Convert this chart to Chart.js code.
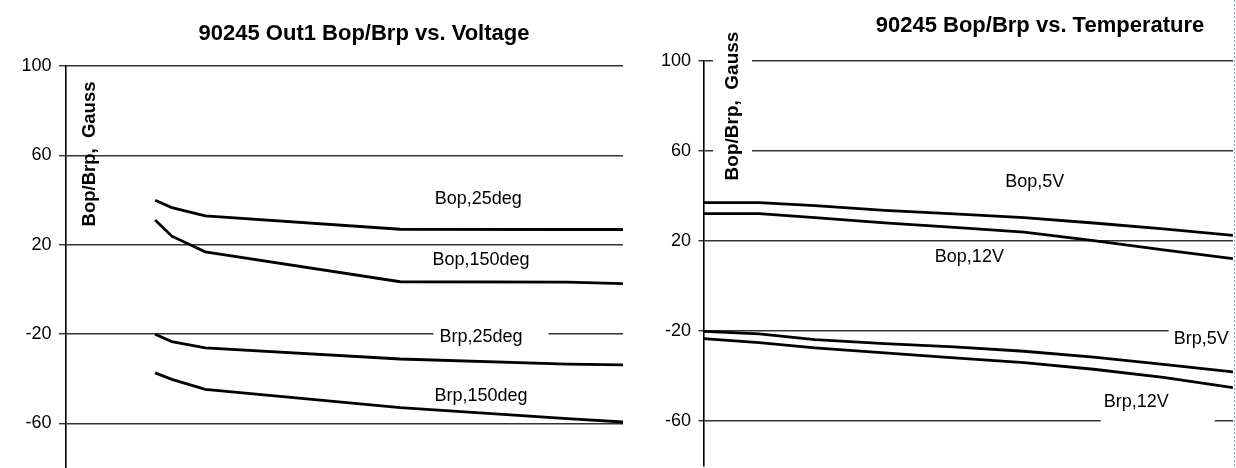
<!DOCTYPE html>
<html lang="en"><head>
<meta charset="utf-8">
<title>90245 Bop/Brp</title>
<script src="https://cdn.jsdelivr.net/npm/chart.js@4"></script>
<style>
*{box-sizing:border-box;margin:0;padding:0}
body{background:#fff;width:1236px;height:468px;overflow:hidden;position:relative}
.pane{position:absolute;top:0;height:468px}
#p-volt{left:0;width:624px}
#p-temp{left:624px;width:612px}
</style></head><body>
<div class="pane" id="p-volt"><canvas id="c-volt"></canvas></div>
<div class="pane" id="p-temp"><canvas id="c-temp"></canvas></div>
<script>
// supply voltage sweep (V)
const volts=[3.2,3.8,5,12,18,20];
const bop25=[39.9,36.6,32.9,26.9,26.8,26.8];
const bop150=[31.0,23.8,16.8,3.4,3.2,2.6];
const brp25=[-20.1,-23.4,-26.2,-31.2,-33.5,-33.8];
const brp150=[-37.4,-40.3,-44.8,-53.0,-57.9,-59.4];
// temperature sweep (degC)
const temps=[-40,-20,0,25,50,75,100,125,150];
const bop5v=[37.1,37.1,35.7,33.6,32.1,30.4,28.0,25.4,22.5];
const bop12v=[32.2,32.2,30.4,28.1,26.1,23.9,20.2,16.1,12.2];
const brp5v=[-20.2,-21.3,-23.8,-25.6,-27.1,-29.0,-31.6,-34.8,-38.2];
const brp12v=[-23.4,-25.2,-27.5,-29.7,-31.9,-34.1,-37.0,-40.6,-45.2];
const yTicks=[-60,-20,20,60,100];

const FONT='"Liberation Sans", Arial, sans-serif';
const pts=(xs,ys)=>xs.map((x,i)=>({x,y:ys[i]}));
const line=d=>({data:d,borderColor:'#000',borderWidth:2.8,pointRadius:0,tension:0,fill:false});
const CAP=13;

// titles, axis title and the in-plot series labels (Excel style text boxes)
function decor(cfg){
  return {id:'decor',
  beforeDatasetsDraw(chart){
    // white label boxes hide the gridlines behind them, not the curves
    const {ctx}=chart,xs=chart.scales.x,ys=chart.scales.y;
    ctx.save();
    ctx.fillStyle='#fff';
    ctx.font='18px '+FONT;
    if(cfg.yBox)ctx.fillRect(...cfg.yBox);
    cfg.notes.forEach(n=>{
      if(!n.pad)return;
      const px=xs.getPixelForValue(n.x),py=ys.getPixelForValue(n.y);
      const w=ctx.measureText(n.text).width;
      const [l,r,t,b]=n.pad;
      ctx.fillRect(px-w/2-l,py-CAP/2-t,w+l+r,CAP+t+b);
    });
    ctx.restore();
  },
  afterDatasetsDraw(chart){
    const {ctx}=chart,xs=chart.scales.x,ys=chart.scales.y;
    ctx.save();
    ctx.fillStyle='#000';
    ctx.font='bold 22px '+FONT;ctx.textAlign='center';ctx.textBaseline='alphabetic';
    ctx.fillText(cfg.title,cfg.titleX,cfg.titleY);
    // vertical axis title
    ctx.save();
    ctx.translate(cfg.yTitleX,cfg.yTitleY);ctx.rotate(-Math.PI/2);
    ctx.font='bold '+cfg.yTitleSize+'px '+FONT;ctx.textBaseline='middle';
    ctx.fillText('Bop/Brp,  Gauss',0,0);
    ctx.restore();
    // series labels
    ctx.font='18px '+FONT;
    cfg.notes.forEach(n=>{
      const px=xs.getPixelForValue(n.x),py=ys.getPixelForValue(n.y);
      ctx.fillText(n.text,px,py+CAP/2);
    });
    if(cfg.edge){
      ctx.strokeStyle='#6fa8dc';ctx.lineWidth=1;ctx.setLineDash([2,2]);
      ctx.beginPath();ctx.moveTo(chart.width-1.5,0);ctx.lineTo(chart.width-1.5,chart.height);ctx.stroke();
    }
    ctx.restore();
  }};
}

function opts(xMin,xMax,axisW,tickLen,pad){
  return {
    animation:false,responsive:true,maintainAspectRatio:false,events:[],
    layout:{padding:pad},
    plugins:{legend:{display:false},tooltip:{enabled:false}},
    scales:{
      x:{type:'linear',display:false,min:xMin,max:xMax},
      y:{min:-80,max:100,
        afterBuildTicks:s=>{s.ticks=yTicks.map(v=>({value:v}));},
        afterFit:s=>{s.width=axisW;s.paddingTop=0;s.paddingBottom=0;},
        grid:{color:'#333',lineWidth:1.4,tickLength:tickLen,drawTicks:true},
        border:{color:'#000',width:1.6},
        ticks:{color:'#000',font:{family:FONT,size:18},padding:7.5}}
    }
  };
}

new Chart(document.getElementById('c-volt'),{
  type:'line',
  data:{datasets:[line(pts(volts,bop25)),line(pts(volts,bop150)),line(pts(volts,brp25)),line(pts(volts,brp150))]},
  options:opts(0,20,66,7,{top:66,bottom:0,left:0,right:1}),
  plugins:[decor({
    title:'90245 Out1 Bop/Brp vs. Voltage',titleX:364,titleY:40,
    yTitleX:90,yTitleY:154,yTitleSize:18.5,
    notes:[
      {text:'Bop,25deg',x:14.8,y:40.9},
      {text:'Bop,150deg',x:14.9,y:13.8},
      {text:'Brp,25deg',x:14.9,y:-20.5,pad:[6,26,8,8]},
      {text:'Brp,150deg',x:14.9,y:-46.9}
    ]})]
});

new Chart(document.getElementById('c-temp'),{
  type:'line',
  data:{datasets:[line(pts(temps,bop5v)),line(pts(temps,bop12v)),line(pts(temps,brp5v)),line(pts(temps,brp12v))]},
  options:opts(-40,150,79.5,5,{top:61,bottom:2,left:0,right:3}),
  plugins:[decor({
    title:'90245 Bop/Brp vs. Temperature',titleX:416,titleY:32,
    yTitleX:109,yTitleY:106,yTitleSize:19,yBox:[89,25,39,162],
    edge:true,
    notes:[
      {text:'Bop,5V',x:78.9,y:47.0},
      {text:'Bop,12V',x:55.4,y:13.6},
      {text:'Brp,5V',x:138.6,y:-22.7,pad:[5,20,8,8]},
      {text:'Brp,12V',x:115.3,y:-50.8,pad:[3,46,3,18]}
    ]})]
});
</script></body></html>
